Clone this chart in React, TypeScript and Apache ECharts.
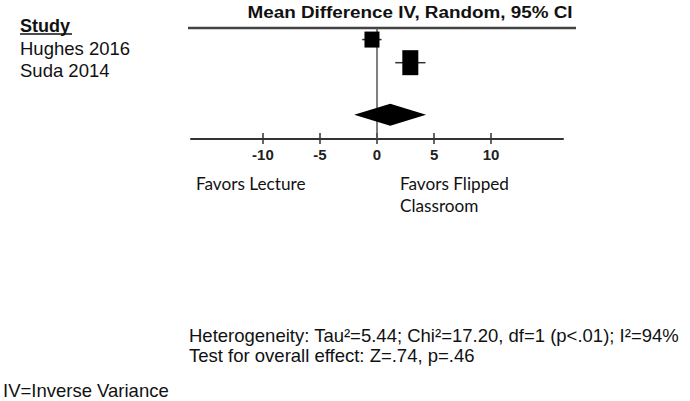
import React, { useEffect, useRef } from "react";
import * as echarts from "echarts";

// ---- data ----
const STUDIES = ["Hughes 2016", "Suda 2014"];
const MEAN_DIFF = [-0.44, 2.92];
const CI_LOW = [-1.3, 1.6];
const CI_HIGH = [0.4, 4.25];
const POOLED_MEAN = 1.16;
const POOLED_LOW = -2.0;
const POOLED_HIGH = 4.3;
const TICKS = [-10, -5, 0, 5, 10];
const TITLE = "Mean Difference IV, Random, 95% CI";
const FAVORS_LEFT = "Favors Lecture";
const FAVORS_RIGHT = "Favors Flipped\nClassroom";
const HETEROGENEITY = "Heterogeneity: Tau\u00b2=5.44; Chi\u00b2=17.20, df=1 (p<.01); I\u00b2=94%";
const OVERALL_TEST = "Test for overall effect: Z=.74, p=.46";
const FOOTNOTE = "IV=Inverse Variance";

// ---- layout / style ----
const ROW_POS = [0.5, 1.5];
const POOLED_ROW = 3.75;
const Y_MAX = 4.8;
const BOX_SIZES = [
  [15, 16],
  [16, 25],
];
const DIAMOND_H = 22;
const ARIAL = "'Liberation Sans', Arial, sans-serif";
const CALIBRI = "Lato, 'Open Sans', sans-serif";

export default function App() {
  const ref = useRef<HTMLDivElement>(null);

  useEffect(() => {
    if (!ref.current) return;
    const chart = echarts.init(ref.current, null, { renderer: "svg" });

    const studyData = STUDIES.map((s, i) => [
      MEAN_DIFF[i],
      CI_LOW[i],
      CI_HIGH[i],
      ROW_POS[i],
      i,
    ]);

    const graphics: any[] = [
      {
        type: "text",
        x: 410,
        y: 12,
        scaleX: 1.11,
        style: {
          text: TITLE,
          x: 0,
          y: 0,
          align: "center",
          verticalAlign: "middle",
          font: `bold 17px ${ARIAL}`,
          fill: "#111",
        },
      },
      {
        type: "line",
        shape: { x1: 188, y1: 28, x2: 576, y2: 28 },
        style: { stroke: "#444", lineWidth: 2.5 },
      },
      {
        type: "text",
        style: {
          text: "Study",
          x: 20,
          y: 26,
          verticalAlign: "middle",
          font: `bold 18px ${ARIAL}`,
          fill: "#111",
        },
      },
      {
        type: "line",
        shape: { x1: 20, y1: 34, x2: 72, y2: 34 },
        style: { stroke: "#111", lineWidth: 1.5 },
      },
      ...STUDIES.map((s, i) => ({
        type: "text",
        style: {
          text: s,
          x: 20,
          y: 48 + i * 22,
          verticalAlign: "middle",
          font: `18.5px ${ARIAL}`,
          fill: "#111",
        },
      })),
      {
        type: "text",
        style: {
          text: FAVORS_LEFT,
          x: 196,
          y: 183,
          verticalAlign: "middle",
          font: `17.2px ${CALIBRI}`,
          fill: "#111",
        },
      },
      {
        type: "text",
        style: {
          text: FAVORS_RIGHT,
          x: 400,
          y: 172,
          verticalAlign: "top",
          lineHeight: 22,
          font: `17.2px ${CALIBRI}`,
          fill: "#111",
        },
      },
      {
        type: "text",
        style: {
          text: HETEROGENEITY,
          x: 189,
          y: 335,
          verticalAlign: "middle",
          font: `18.5px ${ARIAL}`,
          fill: "#111",
        },
      },
      {
        type: "text",
        style: {
          text: OVERALL_TEST,
          x: 189,
          y: 355,
          verticalAlign: "middle",
          font: `18.5px ${ARIAL}`,
          fill: "#111",
        },
      },
      {
        type: "text",
        style: {
          text: FOOTNOTE,
          x: 3,
          y: 390,
          verticalAlign: "middle",
          font: `18.5px ${ARIAL}`,
          fill: "#111",
        },
      },
    ];

    const xCommon = {
      type: "value",
      min: -16.3,
      max: 16.3,
      splitLine: { show: false },
      position: "bottom",
    };

    chart.setOption({
      animation: false,
      grid: { left: 191, right: 127, top: 28, bottom: 262, containLabel: false },
      xAxis: [
        {
          ...xCommon,
          axisLine: { show: true, onZero: false, lineStyle: { color: "#333", width: 2 } },
          axisTick: {
            show: true,
            customValues: TICKS,
            length: 5,
            inside: false,
            lineStyle: { color: "#333", width: 1.5 },
          },
          axisLabel: {
            show: true,
            customValues: TICKS,
            margin: 8,
            fontFamily: ARIAL,
            fontWeight: "bold",
            fontSize: 15,
            color: "#222",
          },
        },
        {
          ...xCommon,
          axisLine: { show: false, onZero: false },
          axisTick: {
            show: true,
            customValues: TICKS,
            length: 6,
            inside: true,
            lineStyle: { color: "#333", width: 1.5 },
          },
          axisLabel: { show: false },
        },
      ],
      yAxis: {
        type: "value",
        min: 0,
        max: Y_MAX,
        inverse: true,
        show: false,
      },
      series: [
        {
          type: "line",
          xAxisIndex: 0,
          data: [
            [0, 0],
            [0, Y_MAX],
          ],
          symbol: "none",
          lineStyle: { color: "#555", width: 1.5 },
          z: 1,
          silent: true,
        },
        {
          type: "custom",
          xAxisIndex: 0,
          data: studyData,
          z: 3,
          renderItem: (params: any, api: any) => {
            const m = api.value(0);
            const lo = api.value(1);
            const hi = api.value(2);
            const row = api.value(3);
            const idx = api.value(4);
            const pLo = api.coord([lo, row]);
            const pHi = api.coord([hi, row]);
            const pM = api.coord([m, row]);
            const [w, h] = BOX_SIZES[idx];
            return {
              type: "group",
              children: [
                {
                  type: "line",
                  shape: { x1: pLo[0], y1: pLo[1], x2: pHi[0], y2: pHi[1] },
                  style: { stroke: "#333", lineWidth: 1.5 },
                },
                {
                  type: "rect",
                  shape: { x: pM[0] - w / 2, y: pM[1] - h / 2, width: w, height: h },
                  style: { fill: "#000" },
                },
              ],
            };
          },
        },
        {
          type: "custom",
          xAxisIndex: 0,
          data: [[POOLED_MEAN, POOLED_LOW, POOLED_HIGH, POOLED_ROW]],
          z: 3,
          renderItem: (params: any, api: any) => {
            const pLo = api.coord([api.value(1), api.value(3)]);
            const pHi = api.coord([api.value(2), api.value(3)]);
            const pM = api.coord([api.value(0), api.value(3)]);
            return {
              type: "polygon",
              shape: {
                points: [
                  [pLo[0], pLo[1]],
                  [pM[0], pM[1] - DIAMOND_H / 2],
                  [pHi[0], pHi[1]],
                  [pM[0], pM[1] + DIAMOND_H / 2],
                ],
              },
              style: { fill: "#000" },
            };
          },
        },
      ],
      graphic: graphics,
    });

    return () => chart.dispose();
  }, []);

  return (
    <div
      ref={ref}
      style={{ position: "fixed", left: 0, top: 0, width: 690, height: 401, background: "#fff" }}
    />
  );
}
